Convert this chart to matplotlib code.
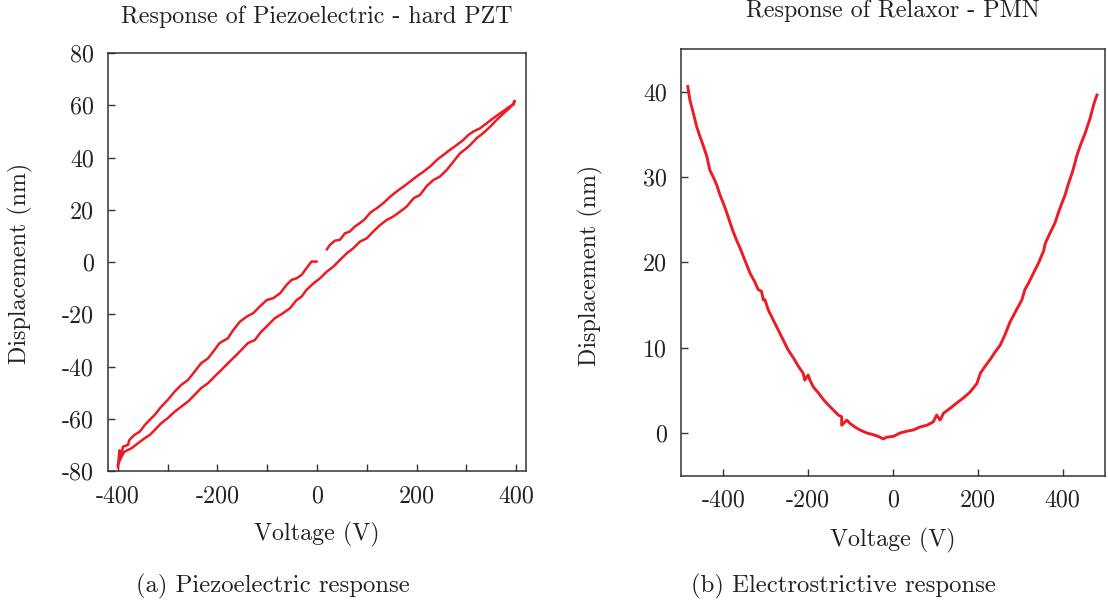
import numpy as np
import matplotlib
matplotlib.use("Agg")
import matplotlib.pyplot as plt

plt.rcParams['font.family'] = ['cmr10', 'DejaVu Serif']
plt.rcParams['mathtext.fontset'] = 'cm'
plt.rcParams['axes.unicode_minus'] = False
plt.rcParams['axes.formatter.use_mathtext'] = False

# --- (a) hard PZT: lower branch (rising voltage)
pzt_up_v = [-400, -393, -387, -373, -360, -346, -336, -326, -313, -300, -286, -273, -259, -246, -233,
            -219, -206, -192, -179, -165, -152, -139, -125, -112, -98, -85, -68, -54, -41, -31, -21,
            -7, 6, 20, 33, 46, 60, 73, 86, 100, 113, 127, 140, 153, 167, 180, 194, 207, 221, 234,
            247, 261, 274, 287, 301, 308, 321, 334, 348, 361, 375, 387, 393, 397]
pzt_up_d = [-77.5, -74.4, -72.5, -71.2, -69.3, -67.3, -66.1, -64.2, -61.6, -59.7, -57.2, -55.3, -53.3,
            -50.8, -48.2, -46.3, -43.8, -41.2, -38.7, -36.1, -33.6, -31.0, -29.8, -26.6, -24.0, -21.5,
            -19.5, -17.6, -14.5, -13.2, -10.6, -8.1, -6.2, -3.6, -1.7, 0.8, 3.4, 5.3, 7.8, 9.1, 11.7,
            14.2, 16.1, 17.4, 19.3, 21.2, 24.4, 25.7, 29.2, 31.4, 32.7, 35.3, 38.4, 41.5, 43.6, 44.8,
            47.4, 49.3, 51.8, 54.4, 56.9, 58.9, 60.3, 61.5]

# upper branch (falling voltage), right part before the gap
pzt_dn1_v = [397, 395, 387, 378, 368, 354, 341, 328, 314, 304, 294, 281, 267, 254, 241, 227, 214,
             200, 187, 174, 160, 147, 133, 120, 107, 96, 86, 76, 66, 56, 46, 36, 26, 20]
pzt_dn1_d = [61.5, 60.2, 59.5, 58.2, 56.9, 55.0, 53.1, 51.2, 49.9, 48.6, 46.7, 44.8, 42.9, 41.0,
             39.1, 36.5, 34.6, 32.7, 30.8, 28.9, 27.0, 25.0, 22.5, 20.6, 18.9, 16.4, 14.9, 13.6, 11.7,
             11.0, 8.5, 8.2, 6.6, 4.9]

# upper branch, left part after the gap
pzt_dn2_v = [-1, -11, -21, -31, -41, -51, -61, -74, -88, -101, -115, -128, -141, -155, -168, -179,
             -196, -206, -219, -233, -246, -259, -273, -286, -300, -313, -326, -336, -346, -356,
             -367, -377, -380, -390, -394, -397, -399, -400]
pzt_dn2_d = [0.2, 0.2, -2.3, -4.9, -6.2, -6.8, -8.7, -11.9, -13.8, -14.5, -17.0, -19.5, -20.8,
             -22.8, -25.9, -29.1, -31.0, -33.6, -36.8, -38.7, -41.9, -45.0, -47.0, -49.5, -52.7,
             -55.3, -58.4, -60.3, -62.3, -64.8, -66.1, -68.0, -69.9, -70.6, -74.5, -72.0, -76.0, -78.5]

# --- (b) PMN relaxor
pmn_v = [-484, -479, -471, -463, -455, -447, -439, -432, -424, -416, -408, -400, -392, -384, -377,
         -369, -361, -353, -345, -337, -326, -318, -310, -306, -302, -294, -282, -271, -259, -247,
         -235, -223, -212, -208, -200, -196, -188, -176, -164, -153, -141, -129, -121, -121, -109,
         -101, -90, -78, -62, -47, -35, -23, -15, 1, 17, 32, 48, 64, 80, 95, 103, 111, 119, 135,
         150, 166, 182, 198, 206, 217, 229, 241, 253, 264, 276, 292, 304, 311, 319, 331, 343, 355,
         359, 370, 382, 390, 398, 406, 413, 422, 429, 433, 441, 453, 465, 474, 481]
pmn_d = [40.6, 39.0, 37.5, 35.9, 34.7, 33.6, 32.4, 30.8, 30.0, 29.1, 27.9, 26.9, 25.8, 24.6, 23.6,
         22.6, 21.7, 20.7, 19.7, 18.7, 17.7, 16.8, 16.6, 15.6, 15.6, 14.4, 13.2, 12.1, 10.9, 9.7,
         8.8, 7.8, 7.0, 6.2, 6.8, 6.2, 5.4, 4.7, 3.9, 3.3, 2.7, 2.1, 1.9, 0.9, 1.5, 1.1, 0.7, 0.35,
         0.0, -0.2, -0.4, -0.7, -0.5, -0.4, 0.0, 0.2, 0.35, 0.7, 0.9, 1.3, 2.1, 1.5, 2.3, 2.9, 3.5,
         4.1, 4.8, 5.8, 7.0, 7.8, 8.6, 9.5, 10.3, 11.5, 13.0, 14.5, 15.6, 16.8, 17.5, 18.7, 19.9,
         21.3, 22.2, 23.4, 24.6, 25.8, 26.9, 27.9, 29.1, 30.4, 31.6, 32.4, 33.6, 35.1, 36.9, 38.6, 39.6]

red = '#ec1c24'
ink = '#222222'

fig = plt.figure(figsize=(11.08, 6.03), dpi=100)
W, H = 1108, 603
ax1 = fig.add_axes([108 / W, 1 - 471.3 / H, 418 / W, 418.4 / H])
ax2 = fig.add_axes([681 / W, 1 - 475.6 / H, 424 / W, 426.6 / H])

ax1.plot(pzt_up_v, pzt_up_d, color=red, lw=1.8)
ax1.plot(pzt_dn1_v, pzt_dn1_d, color=red, lw=1.8)
ax1.plot(pzt_dn2_v, pzt_dn2_d, color=red, lw=1.8)
ax1.set_xlim(-420, 420)
ax1.set_ylim(-80, 80)
ax1.set_xticks([-400, -200, 0, 200, 400])
ax1.set_xticks([-300, -100, 100, 300], minor=True)
ax1.set_yticks(np.arange(-80, 81, 20))

ax2.plot(pmn_v, pmn_d, color=red, lw=2.1)
ax2.set_xlim(-500, 500)
ax2.set_ylim(-5, 45)
ax2.set_xticks([-400, -200, 0, 200, 400])
ax2.set_yticks([0, 10, 20, 30, 40])

fs = 17.3
for ax in (ax1, ax2):
    for s in ax.spines.values():
        s.set_linewidth(1.1)
        s.set_color('#333333')
    ax.tick_params(which='both', direction='in', length=5, width=1.0, color='#333333',
                   top=False, right=False, labelsize=fs, labelcolor=ink, pad=10)

fig.text(317 / W, 1 - 23 / H, 'Response of Piezoelectric - hard PZT', ha='center', va='baseline', fontsize=fs, color=ink)
fig.text(893 / W, 1 - 17 / H, 'Response of Relaxor - PMN', ha='center', va='baseline', fontsize=fs, color=ink)
fig.text(317 / W, 1 - 540 / H, 'Voltage (V)', ha='center', va='baseline', fontsize=fs, color=ink)
fig.text(893 / W, 1 - 546 / H, 'Voltage (V)', ha='center', va='baseline', fontsize=fs, color=ink)
fig.text(20 / W, 1 - 263 / H, 'Displacement (nm)', ha='center', va='center', rotation=90, fontsize=fs, color=ink)
fig.text(590 / W, 1 - 265 / H, 'Displacement (nm)', ha='center', va='center', rotation=90, fontsize=fs, color=ink)
fig.text(273 / W, 1 - 592 / H, '(a) Piezoelectric response', ha='center', va='baseline', fontsize=17.8, color=ink)
fig.text(843 / W, 1 - 592 / H, '(b) Electrostrictive response', ha='center', va='baseline', fontsize=17.8, color=ink)

fig.savefig('out.png', dpi=100)
